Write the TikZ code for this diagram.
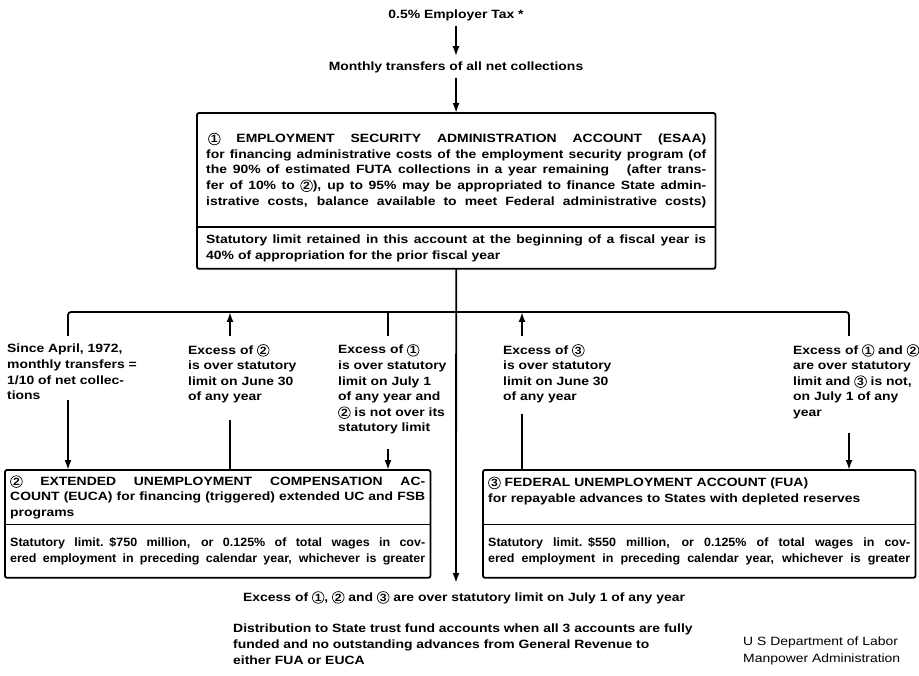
\documentclass[tikz,border=0pt]{standalone}
\usepackage{fontspec}
\usepackage{tikz}
\usetikzlibrary{arrows.meta, positioning, calc}
\newfontfamily\diagfont{Liberation Sans}[FakeStretch=1.16]
\newfontfamily\tightfont{Liberation Sans}[FakeStretch=1.04]
\newcommand{\lbl}{\diagfont\fontsize{12}{15.6}\bfseries}
\newcommand{\tlbl}{\tightfont\fontsize{12}{15.6}\bfseries}
\newcommand{\credfont}{\diagfont\fontsize{12}{17}\selectfont}
\newlength{\boxw}
\newcommand{\jline}[1]{\makebox[\boxw][s]{\spaceskip=0.3em plus 3em\relax #1}}
\newcommand{\cnum}[1]{\tikz[baseline=(cn.base)]\node[circle, draw, line width=0.7pt,
  minimum width=0pt, minimum height=0pt, text width={}, align=center,
  inner sep=0.6pt, font=\diagfont\fontsize{10.5}{10}\bfseries] (cn) {#1};}
\tikzset{
  part/.style={
    rectangle, anchor=north west, inner sep=5pt,
    text width=#1, align=left, font=\lbl
  },
  frame/.style={line width=1.8pt, rounded corners=2pt},
  note/.style={anchor=north west, inner sep=0pt, align=left, font=\lbl},
  arrow/.style={-{Latex[length=10pt,width=7pt]}, line width=1.8pt},
  link/.style={line width=1.8pt}
}

\begin{document}
\begin{tikzpicture}[x=1pt, y=-1pt]
  \useasboundingbox (0,0) rectangle (919,676);

  \node[note, anchor=center, inner sep=5pt] (tax) at (456,15) {0.5\% Employer Tax *};
  \node[note, anchor=center, inner sep=5pt] (xfer) at (456,67)
    {Monthly transfers of all net collections};

  % ESAA
  \setlength{\boxw}{500pt}
  \node[part=500pt, inner xsep=9pt, minimum height=114pt] (esaa) at (197,113)
    {\jline{\,\cnum{1} EMPLOYMENT SECURITY ADMINISTRATION ACCOUNT (ESAA)}\\
     \jline{for financing administrative costs of the employment security program (of}\\
     \jline{the 90\% of estimated FUTA collections in a year remaining \quad (after trans-}\\
     \jline{fer of 10\% to \cnum{2}), up to 95\% may be appropriated to finance State admin-}\\
     \jline{istrative costs, balance available to meet Federal administrative costs)}};
  \node[part=500pt, inner xsep=9pt, minimum height=41pt] (esaalim) at (esaa.south west)
    {\jline{Statutory limit retained in this account at the beginning of a fiscal year is}\\
     40\% of appropriation for the prior fiscal year};
  \draw[frame] (esaa.north west) rectangle (esaalim.south east);
  \draw[frame] (esaa.south west) -- (esaa.south east);

  % EUCA
  \setlength{\boxw}{415pt}
  \node[part=415pt, minimum height=54pt] (euca) at (5,470)
    {\jline{\cnum{2} EXTENDED UNEMPLOYMENT COMPENSATION AC-}\\
     \jline{COUNT (EUCA) for financing (triggered) extended UC and FSB}\\
     programs};
  \node[part=415pt, font=\tlbl, minimum height=53pt] (eucalim) at (euca.south west)
    {\jline{Statutory limit. \$750 million, or 0.125\% of total wages in cov-}\\
     \jline{ered employment in preceding calendar year, whichever is greater}};
  \draw[frame] (euca.north west) rectangle (eucalim.south east);
  \draw[frame] (euca.south west) -- (euca.south east);

  % FUA
  \setlength{\boxw}{422pt}
  \node[part=422pt, minimum height=54pt] (fua) at (483,470)
    {\cnum{3} FEDERAL UNEMPLOYMENT ACCOUNT (FUA)\\
     for repayable advances to States with depleted reserves\\ ~};
  \node[part=422pt, font=\tlbl, minimum height=53pt] (fualim) at (fua.south west)
    {\jline{Statutory limit. \$550 million, or 0.125\% of total wages in cov-}\\
     \jline{ered employment in preceding calendar year, whichever is greater}};
  \draw[frame] (fua.north west) rectangle (fualim.south east);
  \draw[frame] (fua.south west) -- (fua.south east);

  % conditions
  \node[note] (since) at (7,344)
    {Since April, 1972,\\monthly transfers =\\1/10 of net collec-\\tions};
  \node[note] (exc2) at (188,344)
    {Excess of \cnum{2}\\is over statutory\\limit on June 30\\of any year};
  \node[note] (exc1) at (338,344)
    {Excess of \cnum{1}\\is over statutory\\limit on July 1\\of any year and\\
     \cnum{2} is not over its\\statutory limit};
  \node[note] (exc3) at (503,344)
    {Excess of \cnum{3}\\is over statutory\\limit on June 30\\of any year};
  \node[note] (exc12) at (793,344)
    {Excess of \cnum{1} and \cnum{2}\\are over statutory\\limit and \cnum{3} is not,\\
     on July 1 of any\\year};

  \node[note] (allexc) at (243,591)
    {Excess of \cnum{1}, \cnum{2} and \cnum{3} are over statutory limit on July 1 of any year};
  \node[note] (dist) at (233,624)
    {Distribution to State trust fund accounts when all 3 accounts are fully\\
     funded and no outstanding advances from General Revenue to\\
     either FUA or EUCA};
  \node[note, font=\credfont] (credit) at (743,637)
    {U S Department of Labor\\Manpower Administration};

  \coordinate (split) at (456,312);
  \coordinate (tip) at (456,583);
  \coordinate (c1) at (68,0);
  \coordinate (c2) at (230,0);
  \coordinate (c3) at (388,0);
  \coordinate (c4) at (522,0);
  \coordinate (c5) at (849,0);

  \draw[arrow] (tax) -- (xfer);
  \draw[arrow] (xfer) -- (esaa);
  \draw[arrow] (esaalim.south) -- (tip);

  \draw[link, rounded corners=3pt, shorten <=8pt, shorten >=8pt]
    (c1 |- since.north) |- (c5 |- split) -- (c5 |- exc12.north);
  \draw[link, shorten >=8pt] (c3 |- split) -- (c3 |- exc1.north);
  \foreach \c/\t in {c2/exc2, c4/exc3}
    \draw[arrow, shorten <=8pt] (\c |- \t.north) -- (\c |- split);

  \draw[arrow] (c1 |- since.south) -- (c1 |- euca.north);
  \draw[link, shorten <=16pt] (c2 |- exc2.south) -- (c2 |- euca.north);
  \draw[arrow, shorten <=14pt] (c3 |- exc1.south) -- (c3 |- euca.north);
  \draw[link, shorten <=10pt] (c4 |- exc3.south) -- (c4 |- fua.north);
  \draw[arrow, shorten <=14pt] (c5 |- exc12.south) -- (c5 |- fua.north);
\end{tikzpicture}
\end{document}
